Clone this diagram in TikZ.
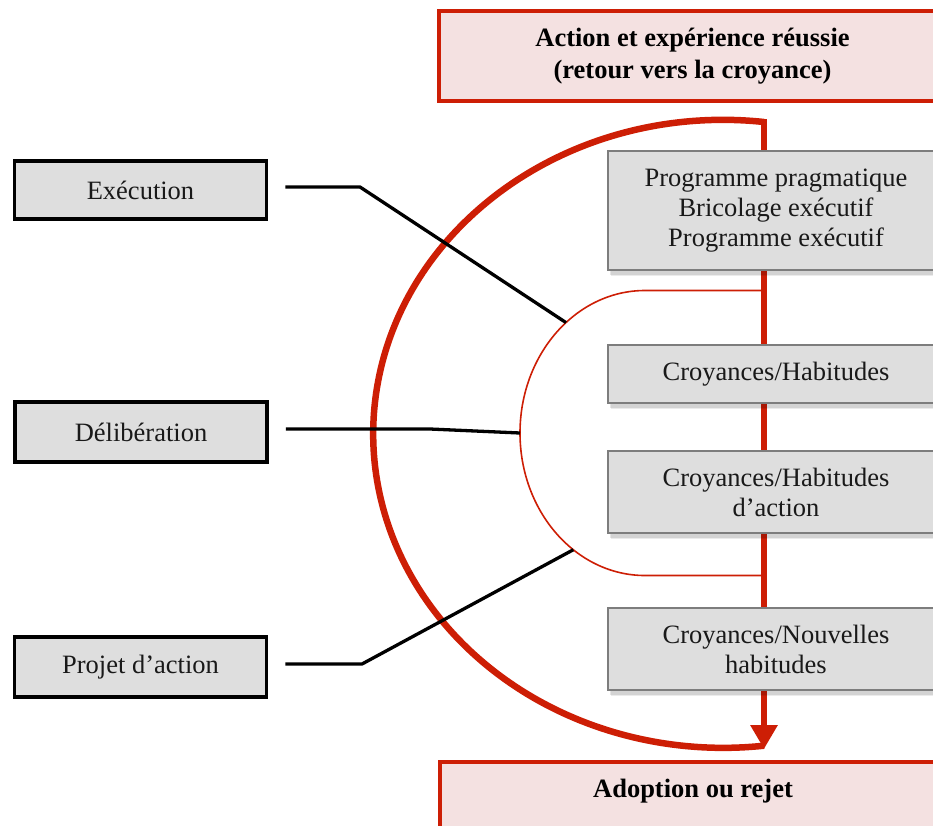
\documentclass[tikz,border=0pt]{standalone}
\usepackage{fontspec}
\setmainfont{Liberation Serif}
\usetikzlibrary{arrows.meta,calc}
\definecolor{rred}{RGB}{205,30,5}
\definecolor{pinkfill}{RGB}{244,225,225}
\definecolor{boxgray}{RGB}{222,222,222}
\definecolor{edgegray}{RGB}{125,125,125}
\begin{document}
\begin{tikzpicture}[x=1pt,y=1pt,
  txt/.style={font=\fontsize{26.5}{30}\selectfont, align=center, text=black!90},
  pinkbox/.style={draw=rred, line width=4pt, fill=pinkfill, minimum width=507pt, inner sep=0pt,
    font=\fontsize{26.5}{32}\selectfont\bfseries, align=center},
  graybox/.style={draw=edgegray, line width=2.5pt, fill=boxgray, minimum width=336pt, inner sep=0pt, txt,
    preaction={fill=black, opacity=0.10, transform canvas={shift={(1.5pt,-4.5pt)}}},
    preaction={fill=black, opacity=0.08, transform canvas={shift={(3pt,-6pt)}}}},
  leftbox/.style={draw=black, line width=3.5pt, fill=boxgray, minimum width=252pt, inner sep=0pt, txt},
  bigred/.style={draw=rred, line width=6.5pt},
  thinred/.style={draw=rred, line width=1.6pt},
  link/.style={draw=black, line width=3.3pt, shorten <=17pt}
]
\useasboundingbox (0,0) rectangle (933,-825);
\clip (0,0) rectangle (933,-825);

% pink boxes
\node[pinkbox, minimum height=90pt] (action) at (692.5,-56) {Action et expérience réussie\\(retour vers la croyance)};
\node[pinkbox, minimum height=80pt, text depth=28pt] (adopt) at (693,-802) {Adoption ou rejet};

% red cycle
\coordinate (top) at (764,-122);
\coordinate (tip) at (764,-749);
\draw[bigred] (top) arc[start angle=83.3, end angle=276.7, x radius=350, y radius=314];
\draw[bigred, -{Triangle[width=26pt,length=24pt]}] (764,-119) -- (tip);

% thin U
\draw[thinred] (764,-290.5) -- (645,-290.5) arc[start angle=90, end angle=270, x radius=125, y radius=142.5] -- (764,-575.5);
\coordinate (uE) at ($(645,-433)+(129.2:125 and 142.5)$);
\coordinate (uD) at (520,-433);
\coordinate (uP) at ($(645,-433)+(235:125 and 142.5)$);

% gray boxes
\node[graybox, minimum height=119pt] (prog) at (776,-210.5) {Programme pragmatique\\Bricolage exécutif\\Programme exécutif};
\node[graybox, minimum height=58pt] (croy1) at (776,-374) {Croyances/Habitudes};
\node[graybox, minimum height=82pt] (croy2) at (776,-492) {Croyances/Habitudes\\d’action};
\node[graybox, minimum height=82pt] (croy3) at (776,-649) {Croyances/Nouvelles\\habitudes};

% left boxes
\node[leftbox, minimum height=58pt] (exec) at (140.5,-190) {Exécution};
\node[leftbox, minimum height=60pt] (delib) at (141,-432) {Délibération};
\node[leftbox, minimum height=60pt] (projet) at (140.5,-667) {Projet d’action};

% connectors
\draw[link] ([yshift=3pt]exec.east) -- (360,-187) -- (uE);
\draw[link] ([yshift=3pt]delib.east) -- (430,-429) -- (uD);
\draw[link] ([yshift=3pt]projet.east) -- (362,-664) -- (uP);
\end{tikzpicture}
\end{document}
